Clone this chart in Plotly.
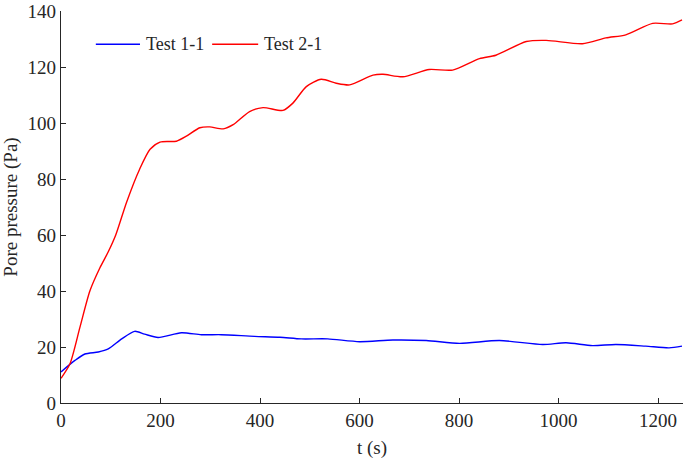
import plotly.graph_objects as go

t_1 = [0, 28, 48, 75, 95, 122, 148, 168, 195, 242, 282, 322, 389, 440, 483, 536, 600, 667, 734, 801, 881, 968, 1015, 1068, 1115, 1175, 1222, 1248]
p_1 = [11.1, 15.2, 17.5, 18.2, 19.3, 22.9, 25.6, 24.6, 23.4, 25.1, 24.4, 24.4, 23.8, 23.5, 22.9, 22.9, 21.9, 22.5, 22.3, 21.3, 22.3, 20.9, 21.5, 20.5, 20.9, 20.3, 19.7, 20.3]

t_2 = [0, 18, 38, 58, 78, 95, 110, 132, 158, 179, 199, 232, 252, 279, 299, 326, 346, 379, 406, 446, 466, 493, 523, 553, 580, 627, 647, 687, 740, 787, 841, 874, 935, 975, 1048, 1095, 1135, 1189, 1229, 1248]
p_2 = [8.8, 14, 27, 40, 48.2, 54, 60, 71.8, 83.5, 90.6, 93.2, 93.5, 95.3, 98.3, 98.6, 97.9, 99.4, 104.1, 105.5, 104.5, 107.1, 113, 115.6, 114.2, 113.6, 117.1, 117.4, 116.5, 119.1, 118.9, 123, 124.2, 129.1, 129.5, 128.3, 130.4, 131.5, 135.6, 135.4, 136.8]

names = ['Test 1-1', 'Test 2-1']
colors = ['#0000ff', '#ff0000']

font = 'Liberation Serif'
axis_color = '#262626'

fig = go.Figure()
fig.add_trace(go.Scatter(x=t_1, y=p_1, mode='lines', name=names[0], line=dict(color=colors[0], width=1.4, shape='spline', smoothing=0.7)))
fig.add_trace(go.Scatter(x=t_2, y=p_2, mode='lines', name=names[1], line=dict(color=colors[1], width=1.4, shape='spline', smoothing=0.7)))

# legend drawn by hand: plotly's legend sample lines are too short
legend_y = 0.915
for (x0, x1, xt), name, color in zip([(0.056, 0.127, 0.134), (0.243, 0.317, 0.323)], names, colors):
    fig.add_shape(type='line', xref='paper', yref='paper', x0=x0, x1=x1, y0=legend_y, y1=legend_y,
                  line=dict(color=color, width=1.4))
    fig.add_annotation(xref='paper', yref='paper', x=xt, y=legend_y, text=name, showarrow=False,
                       xanchor='left', yanchor='middle', font=dict(size=18, color=axis_color))

fig.update_layout(
    width=685, height=461,
    margin=dict(l=61, r=2, t=11, b=58),
    plot_bgcolor='white', paper_bgcolor='white',
    font=dict(family=font, size=19, color=axis_color),
    showlegend=False,
    xaxis=dict(range=[0, 1250], tickvals=[0, 200, 400, 600, 800, 1000, 1200], ticks='inside', ticklen=5,
               tickcolor=axis_color, showline=True, linecolor=axis_color, linewidth=1.2, showgrid=False,
               zeroline=False, automargin=False, ticklabeloverflow='allow',
               title=dict(text='t (s)', standoff=10, font=dict(size=19))),
    yaxis=dict(range=[0, 140], tickvals=[0, 20, 40, 60, 80, 100, 120, 140], ticks='inside', ticklen=5,
               tickcolor=axis_color, showline=True, linecolor=axis_color, linewidth=1.2, showgrid=False,
               zeroline=False, automargin=False, ticklabeloverflow='allow',
               title=dict(text='Pore pressure (Pa)', standoff=6, font=dict(size=19))),
)

# drop the page's default body margin so the figure sits at the window's corner
fig.write_html('out.html', config={'displayModeBar': False}, post_script="document.body.style.margin='0';")
